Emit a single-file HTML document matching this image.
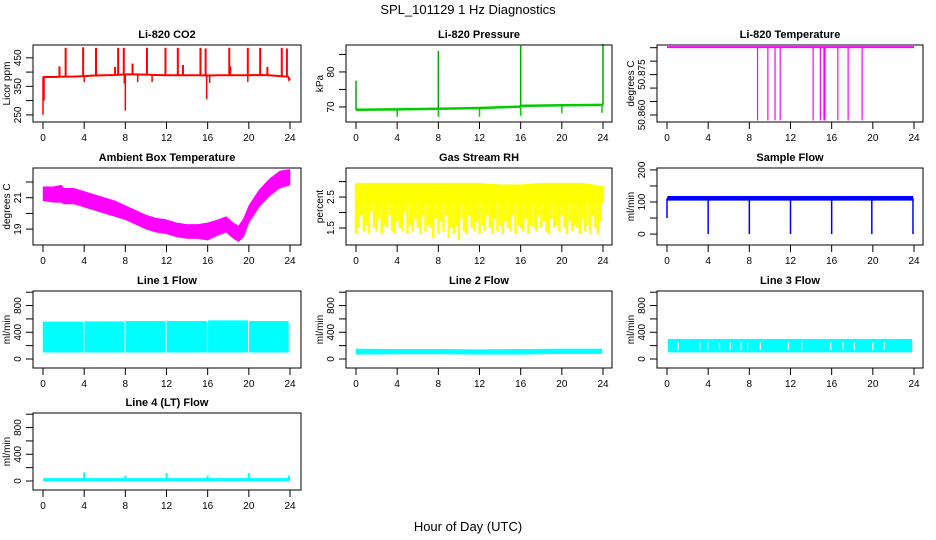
<!DOCTYPE html>
<html><head><meta charset="utf-8"><style>
body{margin:0;background:#fff}
svg{display:block;font-family:"Liberation Sans",Arial,sans-serif}
</style></head><body>
<svg id="chart" width="936" height="540" viewBox="0 0 936 540">
<rect width="936" height="540" fill="#fff"/>
<text x="468" y="14" text-anchor="middle" font-size="13">SPL_101129  1 Hz Diagnostics</text>
<text x="468" y="531" text-anchor="middle" font-size="13">Hour of Day (UTC)</text>
</svg>
<script>
// ---- data ----
const xTicks = [0,4,8,12,16,20,24];
// CO2
const co2Hours = [0,0.05,1,2,3,4,5,6,7,8,9,10,11,12,13,14,15,16,17,18,19,20,21,22,23,23.8,24];
const co2Base = [385,383,383,384,384,386,388,389,390,392,392,391,390,389,389,389,389,388,389,389,389,389,390,389,386,384,372];
const co2SpikeHours = [2.2,3.9,5.15,7.3,7.85,10.1,11.9,13.1,15.3,15.8,18.1,19.9,21.1,23.2,23.7,1.6,7.0,8.7,13.6,18.2,21.8];
const co2SpikeVals = [485,487,485,485,485,485,485,485,485,483,485,485,485,485,483,420,418,430,425,420,418];
const co2DipHours = [0,0.1,8.0,15.9,4,7.9,9.2,10.6,16.2,19.9,23.9];
const co2DipVals = [250,300,265,305,365,360,365,365,362,365,368];
// Pressure
const presHours = [0,4,8,12,15.9,16,20,24];
const presBase = [69.2,69.3,69.5,69.7,70.1,70.3,70.5,70.6];
const presSpikeHours = [0,8,16,24];
const presSpikeVals = [77.5,86,87.5,88];
const presDipHours = [4,8,12,16,20,23.9];
const presDipVals = [67.2,67.2,67.2,67.5,68.2,68.3];
// Li-820 temperature
const tempHours = [0,24];
const tempVals = [50.8852,50.8852];
const tempDropHours = [8.8,9.8,10.5,11,14.2,14.9,15.25,15.35,16.6,17.6,18.96];
const tempDropVals = [50.858,50.858,50.858,50.858,50.858,50.858,50.858,50.858,50.858,50.858,50.858];
// Ambient
const ambHours = [0,1,1.8,2,3,4,5,6,7,8,9,10,11,12,13,14,15,16,17,17.8,18.5,19,19.5,20,21,22,23,24];
const ambHi = [21.7,21.7,21.8,21.6,21.6,21.4,21.2,21.0,20.8,20.5,20.2,19.9,19.7,19.6,19.4,19.3,19.3,19.4,19.6,19.8,19.4,19.2,19.7,20.5,21.5,22.2,22.7,22.8];
const ambLo = [20.8,20.7,20.7,20.6,20.6,20.4,20.2,20.0,19.8,19.6,19.3,19.0,18.8,18.7,18.5,18.4,18.4,18.3,18.6,18.8,18.4,18.2,18.5,19.4,20.4,21.1,21.6,21.8];
// RH
const rhTop = [2.95,2.95,2.95,2.95,2.95,2.95,2.95,2.9,2.9,2.95,2.95,2.95,2.85];
const rhCore = 2.3;
const rhLo = [1.3,1.5,1.9,1.4,1.6,1.3,2.0,1.5,1.4,1.8,1.3,1.6,1.5,1.9,1.4,1.3,1.7,1.5,1.4,2.0,1.3,1.6,1.4,1.8,1.5,1.3,1.9,1.4,1.6,1.5,1.2,1.8,1.3,1.7,1.4,1.9,1.2,1.5,1.3,1.6,1.1,1.8,1.4,1.3,1.9,1.5,1.4,1.7,1.3,1.6,1.4,1.9,1.5,1.3,1.8,1.4,1.6,1.3,1.7,1.5,1.4,1.9,1.3,1.6,1.5,1.4,1.8,1.3,1.6,1.5,1.4,1.9,1.5,1.7,1.4,1.3,1.8,1.5,1.6,1.4,1.9,1.5,1.3,1.7,1.4,1.6,1.5,1.3,1.8,1.4,1.6,1.3,1.9,1.5,1.3,1.7,2.4];
// Sample flow
const sfHours = [0.05,23.9];
const sfHi = [118,118];
const sfLo = [105,105];
const sfDipHours = [0,4,8,12,16,19.9,23.9];
const sfDipVals = [50,0,0,0,0,0,0];
// Line 1
const l1Start = [0,4.05,8.05,12.05,16.05,20.05];
const l1End = [3.9,7.9,11.9,15.9,19.9,23.85];
const l1Hi = [555,560,565,565,575,565];
const l1Lo = [100,100,100,100,100,100];
// Line 2
const l2Hours = [0,4,8,12,16,20,23.9];
const l2Hi = [150,145,145,140,145,150,150];
const l2Lo = [70,75,75,70,70,80,80];
// Line 3
const l3Range = [0.1,23.8];
const l3Hi = 296, l3Lo = 103;
const l3GapHours = [1.1,3.2,3.97,5.1,6.15,7.2,7.83,9.07,11.8,13.1,15.9,17.1,18.2,20.0,21.1];
// Line 4
const l4Hours = [0,24];
const l4Vals = [20,20];
const l4SpikeHours = [4,8,12,16,20,23.9];
const l4SpikeVals = [130,80,120,80,120,80];

// ---- layout ----
const NS = "http://www.w3.org/2000/svg";
const svg = document.getElementById('chart');
const colLeft = [33,346,657], colW = [268,266,266];
const rowTop = [45,168,291,413], H = 77;

function mk(tag, attrs, parent){ const e=document.createElementNS(NS,tag); for(const k in attrs) e.setAttribute(k,attrs[k]); (parent||svg).appendChild(e); return e; }

function panel(name, col, row, title, ylab, ylim, ticks, labels){
  const L=colLeft[col], W=colW[col], T=rowTop[row], B=T+H;
  const g = mk('g',{});
  
  
  const xs = h => L+10+h/24*247;
  const ys = v => B-(v-ylim[0])/(ylim[1]-ylim[0])*H;
  const t = mk('text',{x:L+W/2,y:T-7,'text-anchor':'middle','font-size':11,'font-weight':'bold'},g);
  t.textContent=title;
  
  
  const dg = mk('g',{},g);
  
  
  const box = mk('rect',{x:L,y:T,width:W,height:H,fill:'none',stroke:'#000','stroke-width':1},g);
  
  
  const xa = mk('g',{},g);
  
  
  xTicks.forEach(h=>{
    mk('line',{x1:xs(h),x2:xs(h),y1:B,y2:B+7,stroke:'#000'},xa);
    const tx=mk('text',{x:xs(h),y:B+19,'text-anchor':'middle','font-size':10},xa); tx.textContent=h;
  });
  const ya = mk('g',{},g);
  
  
  mk('line',{x1:L,x2:L,y1:ys(ticks[0]),y2:ys(ticks[ticks.length-1]),stroke:'#000'},ya);
  ticks.forEach((v,i)=>{
    mk('line',{x1:L-7,x2:L,y1:ys(v),y2:ys(v),stroke:'#000'},ya);
    if(labels[i]!==''){ const tx=mk('text',{x:0,y:0,'text-anchor':'middle','font-size':10,transform:`translate(${L-12},${ys(v)}) rotate(-90)`},ya); tx.textContent=labels[i]; }
  });
  const yt=mk('text',{x:0,y:0,'text-anchor':'middle','font-size':10,transform:`translate(${L-23},${T+H/2}) rotate(-90)`},g);
  yt.textContent=ylab;
  
  
  return {xs,ys,g:dg};
}
function interp(hs,vs,h){ if(h<=hs[0])return vs[0]; for(let i=1;i<hs.length;i++){ if(h<=hs[i]){const f=(h-hs[i-1])/(hs[i]-hs[i-1]); return vs[i-1]+f*(vs[i]-vs[i-1]);} } return vs[vs.length-1]; }
function poly(p,hs,vs,color,w){ mk('polyline',{points:hs.map((h,i)=>p.xs(h)+','+p.ys(vs[i])).join(' '),fill:'none',stroke:color,'stroke-width':w},p.g); }
function spikes(p,bh,bv,hs,vs,color,w){ hs.forEach((h,i)=>mk('line',{x1:p.xs(h),x2:p.xs(h),y1:p.ys(interp(bh,bv,h)),y2:p.ys(vs[i]),stroke:color,'stroke-width':w},p.g)); }
function band(p,hs,hi,lo,color){ const pts=hs.map((h,i)=>p.xs(h)+','+p.ys(hi[i])).concat(hs.slice().reverse().map((h,j)=>p.xs(h)+','+p.ys(lo[hs.length-1-j]))); mk('polygon',{points:pts.join(' '),fill:color,stroke:color,'stroke-width':0.5},p.g); }

// CO2
let p = panel('co2',0,0,'Li-820 CO2','Licor ppm',[225,495],[250,300,350,400,450],['250','','350','','450']);
poly(p,co2Hours.slice(1),co2Base.slice(1),'#f00',2);
spikes(p,co2Hours,co2Base,co2SpikeHours,co2SpikeVals,'#f00',2);
spikes(p,co2Hours,co2Base,co2DipHours,co2DipVals,'#f00',1.5);
// Pressure
p = panel('pressure',1,0,'Li-820 Pressure','kPa',[65.7,87.7],[70,75,80,85],['70','','80','']);
poly(p,presHours,presBase,'#0c0',2.5);
spikes(p,presHours,presBase,presSpikeHours,presSpikeVals,'#0a0',1.5);
spikes(p,presHours,presBase,presDipHours,presDipVals,'#0c0',1.5);
// Temp
p = panel('licor-temp',2,0,'Li-820 Temperature','degrees C',[50.8574,50.886],[50.86,50.865,50.87,50.875,50.88,50.885],['50.860','','','50.875','','']);
poly(p,tempHours,tempVals,'#f0f',2);
spikes(p,tempHours,tempVals,tempDropHours,tempDropVals,'#f0f',1.2);
// Ambient
p = panel('ambient-temp',0,1,'Ambient Box Temperature','degrees C',[17.99,22.89],[19,20,21,22],['19','','21','']);
band(p,ambHours,ambHi,ambLo,'#f0f');
// RH
p = panel('gas-rh',1,1,'Gas Stream RH','percent',[0.95,3.44],[1.5,2,2.5,3],['1.5','','2.5','']);
const rhTopHours = rhTop.map((_,i)=>i*2);
band(p,rhTopHours,rhTop,rhTop.map(()=>rhCore),'#ff0');
rhLo.forEach((v,i)=>{ const h=i*24/(rhLo.length-1); mk('line',{x1:p.xs(h),x2:p.xs(h),y1:p.ys(interp(rhTopHours,rhTop,h)),y2:p.ys(v),stroke:'#ff0','stroke-width':2.4},p.g); });
// Sample flow
p = panel('sample-flow',2,1,'Sample Flow','ml/min',[-34,206],[0,50,100,150,200],['0','','100','','200']);
band(p,sfHours,sfHi,sfLo,'#00f');
spikes(p,sfHours,sfHi.map((v,i)=>(v+sfLo[i])/2),sfDipHours,sfDipVals,'#00f',1.5);
// Line flows
const flowTicks=[0,200,400,600,800,1000], flowLabels=['0','','400','','800',''], flowLim=[-135,1018];
p = panel('line1-flow',0,2,'Line 1 Flow','ml/min',flowLim,flowTicks,flowLabels);
l1Start.forEach((s,i)=>band(p,[s,l1End[i]],[l1Hi[i],l1Hi[i]],[l1Lo[i],l1Lo[i]],'#0ff'));
p = panel('line2-flow',1,2,'Line 2 Flow','ml/min',flowLim,flowTicks,flowLabels);
band(p,l2Hours,l2Hi,l2Lo,'#0ff');
p = panel('line3-flow',2,2,'Line 3 Flow','ml/min',flowLim,flowTicks,flowLabels);
band(p,l3Range,[l3Hi,l3Hi],[l3Lo,l3Lo],'#0ff');
l3GapHours.forEach(h=>mk('line',{x1:p.xs(h),x2:p.xs(h),y1:p.ys(l3Hi)+3,y2:p.ys(l3Lo)-2,stroke:'#fff','stroke-width':1.2},p.g));
p = panel('line4-flow',0,3,'Line 4 (LT) Flow','ml/min',flowLim,flowTicks,flowLabels);
poly(p,l4Hours,l4Vals,'#0ff',3);
spikes(p,l4Hours,l4Vals,l4SpikeHours,l4SpikeVals,'#0ff',2);
</script>
</body></html>
